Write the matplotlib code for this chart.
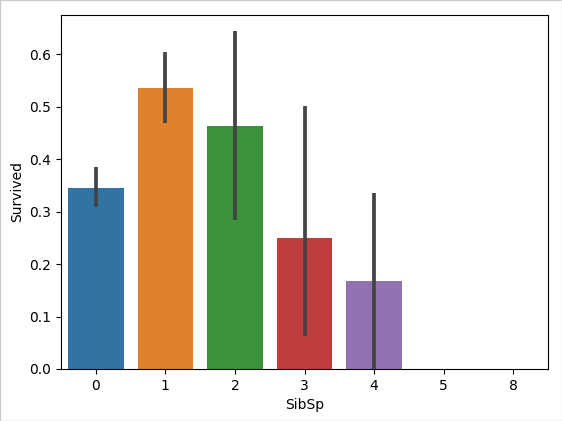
import matplotlib.pyplot as plt
import numpy as np

sibsp = ['0', '1', '2', '3', '4', '5', '8']
survived = [0.345, 0.536, 0.464, 0.25, 0.167, 0.0, 0.0]
ci_low = [0.308, 0.469, 0.285, 0.062, 0.0, 0.0, 0.0]
ci_high = [0.386, 0.605, 0.645, 0.502, 0.335, 0.0, 0.0]
colors = ['#3274a1', '#e1812c', '#3a923a', '#c03d3e', '#9372b2', '#845b53', '#d684bd']

fig = plt.figure(figsize=(5.62, 4.21), dpi=100)
ax = fig.add_axes([61/562, 52/421, 487/562, 354/421])
x = np.arange(len(sibsp))
ax.bar(x, survived, width=0.8, color=colors)
ax.vlines(x[:5], ci_low[:5], ci_high[:5], color='#444444', linewidth=2.7)
ax.set_xticks(x)
ax.set_xticklabels(sibsp)
ax.set_xlim(-0.5, 6.5)
ax.set_ylim(0, 0.675)
ax.set_xlabel('SibSp')
ax.set_ylabel('Survived')
fig.patches.append(plt.Rectangle((0, 0), 1, 1, transform=fig.transFigure,
                                 fill=False, edgecolor='#cccccc', linewidth=1))
fig.savefig('out.png', dpi=100)
